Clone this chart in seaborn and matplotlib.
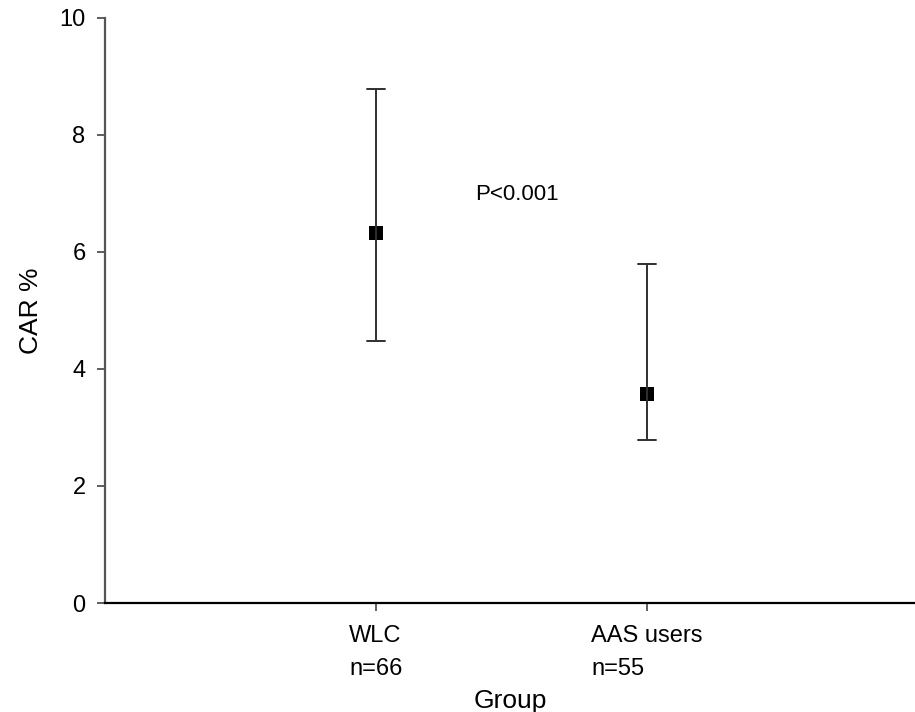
import matplotlib
matplotlib.use("Agg")
import matplotlib.pyplot as plt
import seaborn as sns
import pandas as pd

groups = ["WLC\nn=66", "AAS users\nn=55"]
means = [6.33, 3.57]
lower = [4.48, 2.79]
upper = [8.78, 5.79]
annotation = "P<0.001"

rows = []
for g, lo, m, hi in zip(groups, lower, means, upper):
    for v in (lo, m, hi):
        rows.append({"Group": g, "CAR": v})
df = pd.DataFrame(rows)

sns.set_style("ticks")
plt.rcParams["font.family"] = ["Liberation Sans", "DejaVu Sans"]
plt.rcParams["text.color"] = "black"
plt.rcParams["axes.labelcolor"] = "black"
plt.rcParams["xtick.labelcolor"] = "black"
plt.rcParams["ytick.labelcolor"] = "black"

fig = plt.figure(figsize=(9.15, 7.12), dpi=100)
ax = fig.add_axes([105/915, 109/712, 810/915, 585/712])

sns.pointplot(data=df, x="Group", y="CAR", order=groups,
              estimator="median", errorbar=lambda x: (x.min(), x.max()),
              linestyle="none", marker="s", markersize=10.5, markeredgewidth=0,
              color="black",
              capsize=0.067, err_kws={"color": "#303030", "linewidth": 1.4},
              ax=ax)

ax.set_xlim(-1, 1.99)
ax.set_ylim(0, 10)
ax.set_yticks([0, 2, 4, 6, 8, 10])
ax.set_xticks([0, 1])
ax.set_xticklabels(groups, multialignment="left", linespacing=1.65)
ax.tick_params(axis="both", labelsize=17, direction="out", length=6, width=1.1, color="#333333")
ax.tick_params(axis="x", pad=10)
ax.tick_params(axis="y", pad=8)
ax.set_ylabel("CAR %", fontsize=19, labelpad=12)
ax.set_xlabel("Group", fontsize=19, labelpad=6)
ax.text(0.52, 6.99, annotation, fontsize=16, ha="center", va="center")

for s in ["top", "right"]:
    ax.spines[s].set_visible(False)
ax.spines["left"].set_color("#555555")
ax.spines["left"].set_linewidth(1.6)
ax.spines["bottom"].set_color("black")
ax.spines["bottom"].set_linewidth(1.6)

fig.savefig("out.png", dpi=100)
